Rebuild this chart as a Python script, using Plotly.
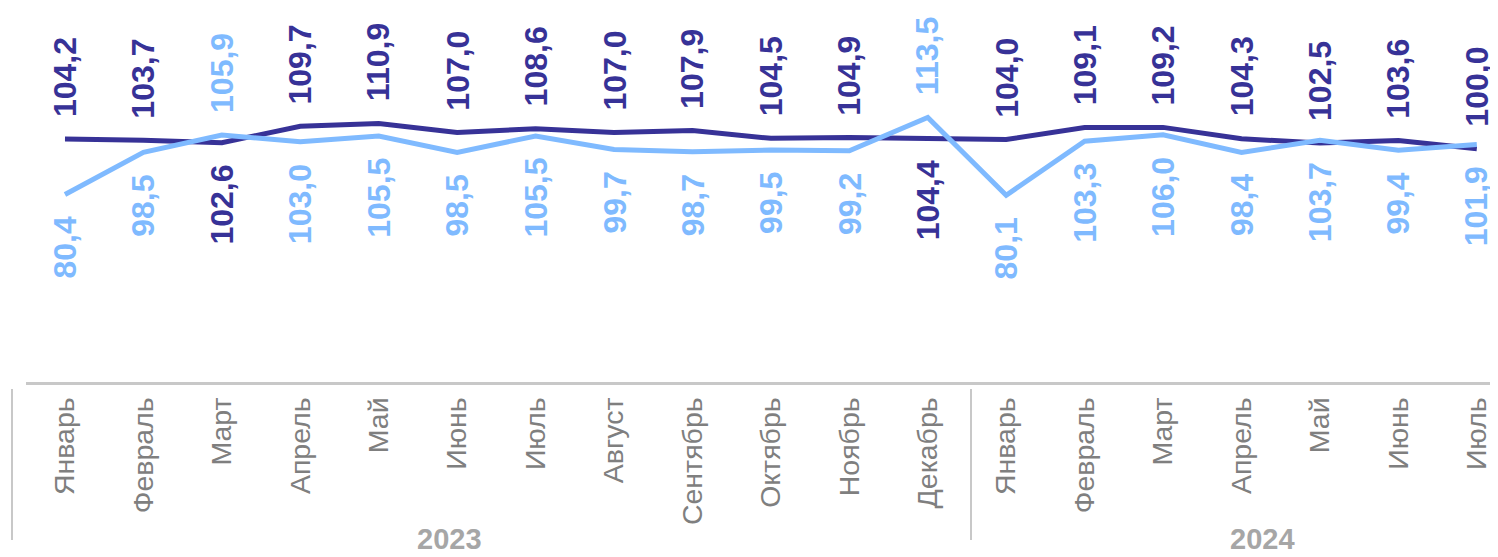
import plotly.graph_objects as go

months = ["Январь", "Февраль", "Март", "Апрель", "Май", "Июнь", "Июль", "Август",
          "Сентябрь", "Октябрь", "Ноябрь", "Декабрь",
          "Январь", "Февраль", "Март", "Апрель", "Май", "Июнь", "Июль"]
years = ["2023", "2024"]
dark_vals = [104.2, 103.7, 102.6, 109.7, 110.9, 107.0, 108.6, 107.0, 107.9, 104.5, 104.9, 104.4,
             104.0, 109.1, 109.2, 104.3, 102.5, 103.6, 100.0]
light_vals = [80.4, 98.5, 105.9, 103.0, 105.5, 98.5, 105.5, 99.7, 98.7, 99.5, 99.2, 113.5,
              80.1, 103.3, 106.0, 98.4, 103.7, 99.4, 101.9]
# label side: True = above the point
dark_above = [True, True, False, True, True, True, True, True, True, True, True, False,
              True, True, True, True, True, True, True]
light_above = [False, False, True, False, False, False, False, False, False, False, False, True,
               False, False, False, False, False, False, False]

DARK = "#373297"
LIGHT = "#7FBAFF"
FONT = "Liberation Sans, Arial, sans-serif"

# the page body adds an 8px margin; the figure is sized to fill the rest
OFF = 8
FIG_W, FIG_H = 1498 - OFF, 557 - OFF
PLOT_L = 26 - OFF
PLOT_H = 382 - OFF
PW = FIG_W - PLOT_L

def px_x(p):
    return (p - OFF - PLOT_L) / PW

def px_y(p):
    return (PLOT_H - (p - OFF)) / PLOT_H

x = list(range(len(months)))
fig = go.Figure()
fig.add_trace(go.Scatter(x=x, y=dark_vals, mode="lines", line=dict(color=DARK, width=5),
                         showlegend=False, hoverinfo="skip"))
fig.add_trace(go.Scatter(x=x, y=light_vals, mode="lines", line=dict(color=LIGHT, width=5),
                         showlegend=False, hoverinfo="skip"))

def fmt(v):
    return f"{v:.1f}".replace(".", ",")

annotations = []
for vals, above, col in ((dark_vals, dark_above, DARK), (light_vals, light_above, LIGHT)):
    for i, (v, a) in enumerate(zip(vals, above)):
        annotations.append(dict(
            x=i, y=v, xref="x", yref="y", text=fmt(v), showarrow=False, textangle=-90,
            font=dict(family=FONT, size=32, color=col, weight="bold"),
            xanchor="center", yanchor="bottom" if a else "top",
            yshift=21 if a else -21, borderpad=0))

for yr, cx in zip(years, (449, 1262)):
    annotations.append(dict(x=px_x(cx), y=px_y(556), xref="paper", yref="paper", text=yr,
                            showarrow=False, xanchor="center", yanchor="bottom",
                            borderpad=0,
                            font=dict(family=FONT, size=29, color="#A6A6A6", weight="bold")))

shapes = []
for sx in (12, 971):
    shapes.append(dict(type="line", xref="paper", yref="paper",
                       x0=px_x(sx), x1=px_x(sx), y0=px_y(389), y1=px_y(540),
                       line=dict(color="#C8C8C8", width=2)))

fig.update_layout(
    width=FIG_W, height=FIG_H,
    margin=dict(l=PLOT_L, r=0, t=0, b=FIG_H - PLOT_H),
    plot_bgcolor="white", paper_bgcolor="white",
    annotations=annotations, shapes=shapes,
    xaxis=dict(range=[-0.497, 18.27], tickmode="array", tickvals=x, ticktext=months,
               tickangle=-90, showgrid=False, zeroline=False, showline=True,
               linecolor="#C8C8C8", linewidth=3, ticks="", ticklabelstandoff=1,
               tickfont=dict(family=FONT, size=28.5, color="#7F7F7F")),
    yaxis=dict(range=[0, 160.4], visible=False, showgrid=False, zeroline=False),
)
fig.write_html("out.html")
